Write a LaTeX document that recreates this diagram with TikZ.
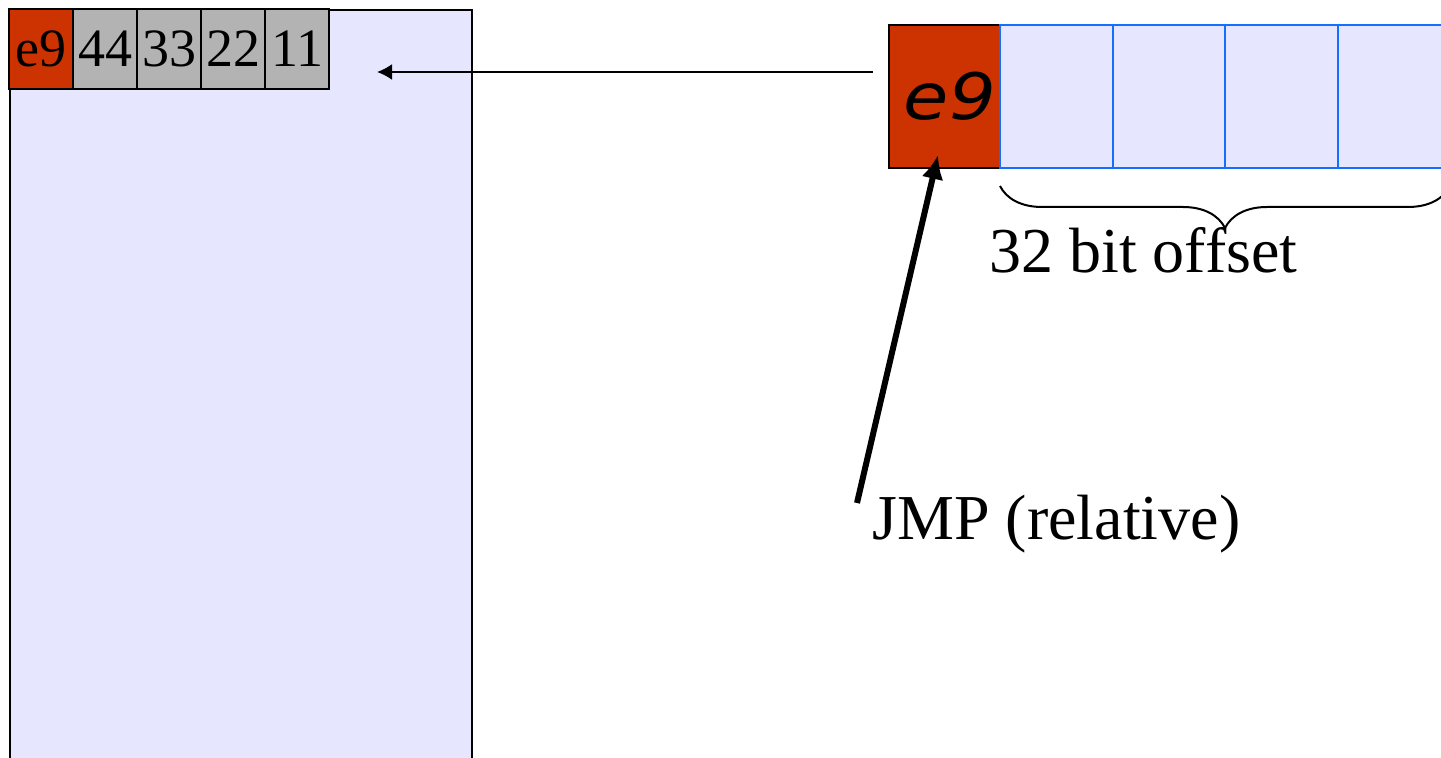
\documentclass[tikz,border=0pt]{standalone}
\usepackage{fontspec}
\setmainfont{Liberation Serif}
\newfontfamily\opcodefont{DejaVu Sans}
\usetikzlibrary{arrows.meta,decorations.pathreplacing}
\definecolor{lav}{RGB}{230,230,255}
\definecolor{opred}{RGB}{204,51,0}
\definecolor{cellgray}{RGB}{179,179,179}
\definecolor{blueline}{RGB}{20,110,255}
\tikzset{
  cell/.style={draw=black, line width=1pt, minimum width=32pt, minimum height=40pt,
    inner sep=0pt, font=\fontsize{27}{30}\selectfont},
  bytecell/.style={draw=blueline, fill=lav, line width=1pt, minimum width=56.25pt,
    minimum height=71.5pt, inner sep=0pt},
  lbl/.style={font=\fontsize{32}{36}\selectfont, inner sep=0pt},
}
\begin{document}
\begin{tikzpicture}[x=0.5pt,y=-0.5pt]
\useasboundingbox (0,0) rectangle (1441,758);
\clip (0,0) rectangle (1441,758);
% memory region
\node[draw=black, fill=lav, line width=1.2pt, minimum width=231pt, minimum height=390pt,
  inner sep=0pt, anchor=north west] (mem) at (9,9) {};
% bytes in memory
\node[cell, fill=opred] (m0) at (41,49) {e9};
\node[cell, fill=cellgray] (m1) at (105,49) {44};
\node[cell, fill=cellgray] (m2) at (169,49) {33};
\node[cell, fill=cellgray] (m3) at (233,49) {22};
\node[cell, fill=cellgray] (m4) at (297,49) {11};
% instruction
\node[draw=black, fill=opred, line width=1pt, minimum width=55.5pt, minimum height=71.5pt,
  inner sep=0pt] (op) at (944.5,96.5) {};
\node[inner sep=0pt, font=\opcodefont\itshape\fontsize{32}{36}\selectfont] (optext) at (950,96.5)
  {\scalebox{1.15}[1]{e9}};
\node[bytecell] (b1) at (1056.5,96.5) {};
\node[bytecell] (b2) at (1169,96.5) {};
\node[bytecell] (b3) at (1281.5,96.5) {};
\node[bytecell] (b4) at (1394,96.5) {};
% brace
\coordinate (brR) at (1450,186);
\coordinate (brL) at (1000,186);
\draw[line width=1pt, decorate, decoration={brace, amplitude=21pt}] (brR) -- (brL);
\node[lbl, anchor=base west] (off) at (989,273) {32 bit offset};
% labels and arrows
\node[lbl, anchor=base west] (jmp) at (872,540) {JMP (relative)};
\coordinate (jmptail) at (857,503);
\coordinate (jmptip) at (938,155);
\draw[line width=3pt, -{Latex[length=12pt,width=11pt]}] (jmptail) -- (jmptip);
\coordinate (tgtfrom) at (873,72);
\coordinate (tgtto) at (377,72);
\draw[line width=1pt, -{Latex[length=7.5pt,width=8pt]}] (tgtfrom) -- (tgtto);
\end{tikzpicture}
\end{document}
